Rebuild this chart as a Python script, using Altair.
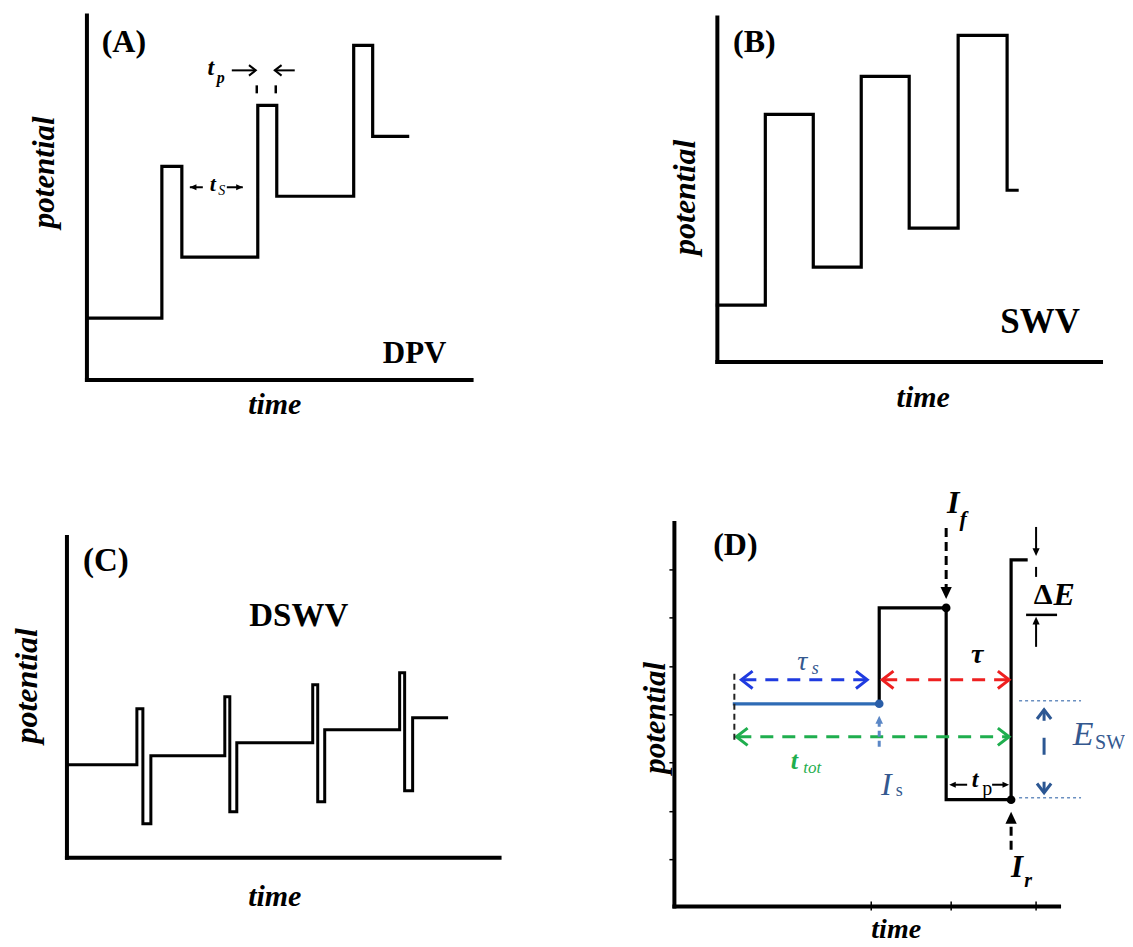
import altair as alt
import pandas as pd

# ---------------- values (arbitrary time / potential units) ----------------
# (A) DPV: staircase with short pulses
A_STEP_TIME = [0, 75, 95, 171, 190, 267, 286, 321]
A_STEP_POT = [62, 214, 123, 275, 184, 335, 244]
A_AXIS_LEN = [385, 365]          # length of time axis, potential axis

# (B) SWV
B_STEP_TIME = [0, 48, 96, 144, 192, 241, 290, 300]
B_STEP_POT = [57, 248, 95, 286, 134, 327, 172]
B_AXIS_LEN = [384, 345]

# (C) DSWV: staircase with narrow up/down spikes
C_STEP_TIME = [0, 70, 76, 84, 158, 163, 170, 246, 251, 258, 333, 338, 346, 380]
C_STEP_POT = [93, 149, 34, 102, 161, 46, 115, 173, 56, 128, 185, 67, 140]
C_AXIS_LEN = [433, 321]

# (D) one square-wave cycle with annotations
D_STEP_TIME = [60, 205, 272, 337, 352]
D_STEP_POT = [203, 299, 107, 347]
D_AXIS_LEN = [385, 384]
D_YTICKS = [47, 95, 144, 192, 240, 289, 337]
D_XTICKS = [197, 277, 362]
D_DOT_TIME = [205, 272, 337]
D_DOT_POT = [203, 299, 107]
D_DOT_COLOR = ["#2a5ea8", "#000000", "#000000"]

# ---------------- layout ----------------
W, H = 558, 465
CELLS = {"A": (8, 8), "B": (8 + W, 8), "C": (8, 8 + H), "D": (8 + W, 8 + H)}
ORIGINS = {"A": (87, 380), "B": (718, 362), "C": (67, 858), "D": (675, 907)}
SERIF = "Liberation Serif, Times New Roman, serif"

BLUE_ARROW = "#1f3be0"
RED = "#ee2020"
GREEN = "#1fae4e"
BLUE_LINE = "#2e6bb5"
STEEL = "#34588f"
IS_ARROW = "#5b87c6"
DOTTED = "#6a8fc0"
ESW_ARROW = "#2c5793"

CHEVRON = "M-1.3,-1L0,0L-1.3,1"
TRI = "M0,0L-1.7,-0.8L-1.7,0.8Z"


def scales(p):
    cx, cy = CELLS[p]
    ox, oy = ORIGINS[p]
    xs = alt.Scale(domain=[cx - ox, cx - ox + W], nice=False, zero=False)
    ys = alt.Scale(domain=[oy - (cy + H), oy - cy], nice=False, zero=False)
    return xs, ys


def enc_xy(p):
    xs, ys = scales(p)
    return dict(x=alt.X("x:Q", scale=xs, axis=None), y=alt.Y("y:Q", scale=ys, axis=None))


def segs(p, rows, color="#000000", width=3.0, dash=None, cap="butt"):
    df = pd.DataFrame(rows, columns=["x", "y", "x2", "y2"])
    kw = dict(color=color, strokeWidth=width, strokeCap=cap)
    if dash:
        kw["strokeDash"] = dash
    return alt.Chart(df).mark_rule(**kw).encode(x2="x2:Q", y2="y2:Q", **enc_xy(p))


def step_vertices(ts, ps):
    vx, vy = [], []
    for i, pot in enumerate(ps):
        vx += [ts[i], ts[i + 1]]
        vy += [pot, pot]
    return vx, vy


def path(p, vx, vy, color="#000000", width=3.2):
    df = pd.DataFrame({"x": vx, "y": vy, "i": list(range(len(vx)))})
    return alt.Chart(df).mark_line(color=color, strokeWidth=width, strokeJoin="miter",
                                   strokeCap="square").encode(order="i:Q", **enc_xy(p))


def heads(p, rows, shape, size, color, filled, width=2.5):
    df = pd.DataFrame(rows, columns=["x", "y", "ang"])
    return alt.Chart(df).mark_point(shape=shape, size=size, filled=filled, color=color,
                                    strokeWidth=width, opacity=1, strokeJoin="miter").encode(
        angle=alt.Angle("ang:Q", scale=None), **enc_xy(p))


def texts(p, rows, weight, style):
    df = pd.DataFrame(rows, columns=["x", "y", "label", "size", "color", "ang"])
    return alt.Chart(df).mark_text(font=SERIF, fontWeight=weight, fontStyle=style,
                                   align="center", baseline="middle").encode(
        text="label:N", size=alt.Size("size:Q", scale=None),
        color=alt.Color("color:N", scale=None), angle=alt.Angle("ang:Q", scale=None),
        **enc_xy(p))


def axes(p, lens, width=4):
    return segs(p, [(0, 0, 0, lens[1]), (0, 0, lens[0], 0)], width=width, cap="square")


K = "#000000"

# ---------------- panel A ----------------
ax, ay = step_vertices(A_STEP_TIME, A_STEP_POT)
panel_a = alt.layer(
    axes("A", A_AXIS_LEN),
    path("A", ax, ay),
    segs("A", [(145, 310, 169, 310), (208, 310, 188, 310)], width=2),
    heads("A", [(169, 310, 0), (188, 310, 180)], CHEVRON, 110, K, False, 2),
    segs("A", [(170, 287, 170, 295), (189, 287, 189, 295)], width=2.5),
    segs("A", [(116, 193, 103, 193), (140, 193, 156, 193)], width=2),
    heads("A", [(103, 193, 180), (156, 193, 0)], TRI, 60, K, True),
    texts("A", [(37, 338, "(A)", 32, K, 0), (328, 26, "DPV", 31, K, 0)], "bold", "normal"),
    texts("A", [(188, -25, "time", 30, K, 0), (-42, 208, "potential", 31, K, 270),
                (124, 312, "t", 24, K, 0), (134, 302, "p", 16, K, 0),
                (126, 196, "t", 22, K, 0)], "bold", "italic"),
    texts("A", [(135, 189, "S", 14, K, 0)], "normal", "italic"),
).properties(width=W, height=H)

# ---------------- panel B ----------------
bx, by = step_vertices(B_STEP_TIME, B_STEP_POT)
panel_b = alt.layer(
    axes("B", B_AXIS_LEN),
    path("B", bx, by),
    texts("B", [(37, 320, "(B)", 32, K, 0), (323, 40, "SWV", 35, K, 0)], "bold", "normal"),
    texts("B", [(206, -36, "time", 30, K, 0), (-32, 165, "potential", 32, K, 270)],
          "bold", "italic"),
).properties(width=W, height=H)

# ---------------- panel C ----------------
cx_, cy_ = step_vertices(C_STEP_TIME, C_STEP_POT)
panel_c = alt.layer(
    axes("C", C_AXIS_LEN),
    path("C", cx_, cy_, width=3),
    texts("C", [(39, 297, "(C)", 33, K, 0), (232, 242, "DSWV", 33, K, 0)], "bold", "normal"),
    texts("C", [(208, -39, "time", 30, K, 0), (-40, 172, "potential", 32, K, 270)],
          "bold", "italic"),
).properties(width=W, height=H)

# ---------------- panel D ----------------
dx, dy = step_vertices(D_STEP_TIME, D_STEP_POT)
dots = pd.DataFrame({"x": D_DOT_TIME, "y": D_DOT_POT, "c": D_DOT_COLOR})
panel_d = alt.layer(
    axes("D", D_AXIS_LEN),
    segs("D", [(-5, v, 0, v) for v in D_YTICKS], width=1.5),
    segs("D", [(v, -4, v, 5) for v in D_XTICKS], width=1.5),
    path("D", dx[:2], dy[:2], color=BLUE_LINE, width=3.2),
    path("D", dx[1:], dy[1:], width=3.2),
    alt.Chart(dots).mark_circle(size=75, opacity=1).encode(
        color=alt.Color("c:N", scale=None), **enc_xy("D")),
    # tau_s, tau, t_tot dashed double arrows
    segs("D", [(69, 227, 191, 227)], color=BLUE_ARROW, width=3, dash=[13, 9]),
    heads("D", [(67, 227, 180), (193, 227, 0)], CHEVRON, 300, BLUE_ARROW, False, 3),
    segs("D", [(210, 227, 333, 227)], color=RED, width=3, dash=[13, 9]),
    heads("D", [(208, 227, 180), (335, 227, 0)], CHEVRON, 300, RED, False, 3),
    segs("D", [(64, 170, 333, 170)], color=GREEN, width=3, dash=[13, 9]),
    heads("D", [(62, 170, 180), (335, 170, 0)], CHEVRON, 300, GREEN, False, 3),
    segs("D", [(60, 167, 60, 235)], color="#222222", width=2, dash=[6, 4]),
    # I_s, I_f, I_r arrows
    segs("D", [(205, 160, 205, 185)], color=IS_ARROW, width=3, dash=[6, 4]),
    heads("D", [(205, 191, 270)], TRI, 90, IS_ARROW, True),
    segs("D", [(272, 379, 272, 316)], width=3, dash=[9, 5]),
    heads("D", [(272, 308, 90)], TRI, 200, K, True),
    segs("D", [(337, 57, 337, 88)], width=3, dash=[9, 5]),
    heads("D", [(337, 95, 270)], TRI, 200, K, True),
    # Delta E
    segs("D", [(362, 380, 362, 356), (362, 340, 362, 330), (362, 260, 362, 286)], width=2),
    segs("D", [(352, 292, 383, 292)], width=2.5),
    heads("D", [(362, 351, 90), (362, 290, 270)], TRI, 80, K, True),
    # E_SW
    segs("D", [(345, 206, 407, 206), (345, 109, 407, 109)], color=DOTTED, width=1.5, dash=[3, 3]),
    segs("D", [(370, 197, 370, 186), (370, 169, 370, 152), (370, 114, 370, 125)],
         color=ESW_ARROW, width=3),
    heads("D", [(370, 197, 270), (370, 114, 90)], CHEVRON, 200, ESW_ARROW, False, 3),
    # t_p
    segs("D", [(293, 122, 279, 122), (318, 122, 331, 122)], width=2),
    heads("D", [(275, 122, 180), (335, 122, 0)], TRI, 60, K, True),
    # labels
    texts("D", [(61, 362, "(D)", 32, K, 0), (369, 312, "Δ", 30, K, 0)], "bold", "normal"),
    texts("D", [(222, -23, "time", 28, K, 0), (-18, 189, "potential", 31, K, 270),
                (303, 252, "τ", 28, K, 0), (120, 146, "t", 26, GREEN, 0),
                (279, 404, "I", 32, K, 0), (289, 388, "f", 22, K, 0),
                (343, 39, "I", 31, K, 0), (354, 26, "r", 20, K, 0),
                (390, 312, "E", 32, K, 0), (301, 127, "t", 24, K, 0)], "bold", "italic"),
    texts("D", [(128, 245, "τ", 28, STEEL, 0), (141, 238, "s", 18, STEEL, 0),
                (138, 139, "tot", 17, GREEN, 0), (212, 122, "I", 32, STEEL, 0),
                (409, 172, "E", 34, STEEL, 0)], "normal", "italic"),
    texts("D", [(225, 116, "s", 18, STEEL, 0), (436, 164, "SW", 20, STEEL, 0),
                (313, 118, "p", 20, K, 0)], "normal", "normal"),
).properties(width=W, height=H)

row1 = alt.hconcat(panel_a, panel_b, spacing=0)
row2 = alt.hconcat(panel_c, panel_d, spacing=0)
chart = (
    alt.vconcat(row1, row2, spacing=0)
    .properties(padding=0, background="white")
    .configure_view(stroke=None)
)

chart.save("out.html", embed_options={"renderer": "svg", "actions": False})
